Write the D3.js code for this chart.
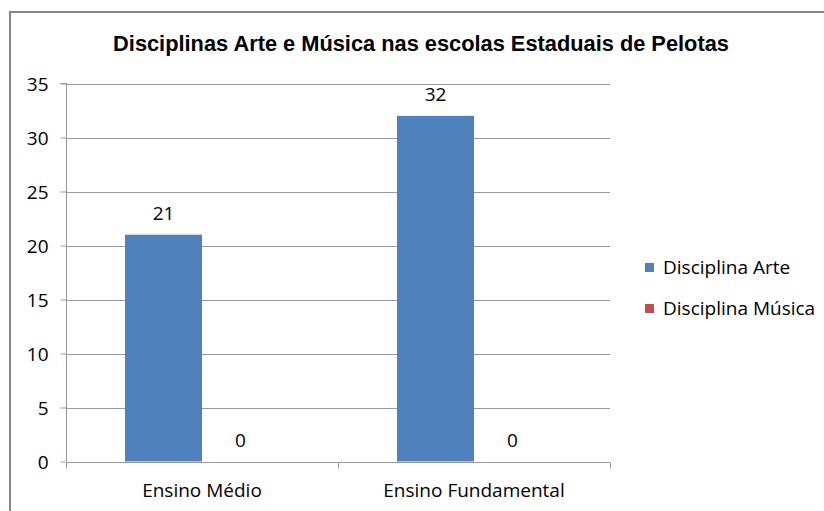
<!DOCTYPE html>
<html><head><meta charset="utf-8">
<script src="https://cdn.jsdelivr.net/npm/d3@7"></script>
<style>body{margin:0;background:#fff;}svg{display:block;}</style>
</head><body>
<script>
const categories = ["Ensino Médio", "Ensino Fundamental"];
const seriesNames = ["Disciplina Arte", "Disciplina Música"];
const arteValues = [21, 32];
const musicaValues = [0, 0];
const yTicks = [0, 5, 10, 15, 20, 25, 30, 35];
const colors = ["#4F81BD", "#C0504D"];
const titleText = "Disciplinas Arte e Música nas escolas Estaduais de Pelotas";

const W = 824, H = 511;
const svg = d3.select("body").append("svg").attr("width", W).attr("height", H);
const font = "'Open Sans', sans-serif";
const fs = 19;

// outer frame
svg.append("rect").attr("x", 10).attr("y", 12).attr("width", 830).attr("height", 520)
  .attr("fill", "#fff").attr("stroke", "#868686").attr("stroke-width", 2);

const plot = {left: 66, right: 610, top: 83.5, bottom: 461.5};
const x0 = d3.scaleBand().domain(categories).range([plot.left, plot.right]).paddingInner(0).paddingOuter(0);
const x1 = d3.scaleBand().domain(seriesNames).range([0, x0.bandwidth()]).paddingOuter(0.766).paddingInner(0);
const y = d3.scaleLinear().domain([0, 35]).range([plot.bottom, plot.top]);

// gridlines
svg.append("g").selectAll("line").data(yTicks.filter(d => d > 0)).join("line")
  .attr("x1", plot.left).attr("x2", plot.right)
  .attr("y1", d => Math.round(y(d)) + 0.5).attr("y2", d => Math.round(y(d)) + 0.5)
  .attr("stroke", "#999").attr("stroke-width", 1);

// y axis
const yAxis = d3.axisLeft(y).tickValues(yTicks).tickSize(6).tickPadding(12).tickFormat(d3.format("d"));
const gy = svg.append("g").attr("transform", `translate(${plot.left + 0.5},0)`).call(yAxis);
gy.select(".domain").attr("stroke", "#999").attr("d", `M-6,${plot.top}H0V${plot.bottom}`);
gy.selectAll(".tick line").attr("stroke", "#999");
gy.selectAll(".tick text").attr("font-family", font).attr("font-size", fs).attr("fill", "#000").attr("dy", "0.36em");

// x axis
const xAxis = d3.axisBottom(x0).tickSize(0).tickPadding(21);
const gx = svg.append("g").attr("transform", `translate(0,${Math.round(plot.bottom) + 0.5})`).call(xAxis);
gx.select(".domain").attr("stroke", "#999").attr("d", `M${plot.left},0H${plot.right}`);
gx.selectAll(".tick text").attr("font-family", font).attr("font-size", fs).attr("fill", "#000");
// category boundary ticks
const bounds = [plot.left, plot.left + x0.bandwidth(), plot.right];
gx.selectAll(".bt").data(bounds).join("line").attr("class", "bt")
  .attr("x1", d => Math.round(d) + 0.5).attr("x2", d => Math.round(d) + 0.5)
  .attr("y1", 0).attr("y2", 6).attr("stroke", "#999");

// bars
const data = categories.map((c, i) => ({cat: c, vals: [arteValues[i], musicaValues[i]]}));
const groups = svg.append("g").selectAll("g").data(data).join("g")
  .attr("transform", d => `translate(${x0(d.cat)},0)`);
groups.selectAll("rect").data(d => d.vals.map((v, j) => ({v, s: seriesNames[j], j}))).join("rect")
  .attr("x", d => x1(d.s)).attr("width", x1.bandwidth())
  .attr("y", d => y(d.v)).attr("height", d => y(0) - y(d.v))
  .attr("fill", d => colors[d.j]);
groups.selectAll("text").data(d => d.vals.map((v, j) => ({v, s: seriesNames[j], j}))).join("text")
  .attr("x", d => x1(d.s) + x1.bandwidth() / 2).attr("y", d => y(d.v) - 15)
  .attr("text-anchor", "middle").attr("font-family", font).attr("font-size", fs).attr("fill", "#000")
  .text(d => d.v);

// title
svg.append("text").attr("x", 421).attr("y", 51).attr("text-anchor", "middle")
  .attr("font-family", "'Liberation Sans', Arial, sans-serif").attr("font-weight", "bold").attr("font-size", 21.8)
  .attr("fill", "#000").text(titleText);

// legend
const lg = svg.append("g").selectAll("g").data(seriesNames).join("g")
  .attr("transform", (d, i) => `translate(645,${267 + i * 41})`);
lg.append("rect").attr("x", 0).attr("y", -4).attr("width", 9).attr("height", 9).attr("fill", (d, i) => colors[i]);
lg.append("text").attr("x", 18).attr("y", 0).attr("dy", "0.36em").attr("font-family", font).attr("font-size", fs)
  .attr("fill", "#000").text(d => d);
</script>
</body></html>
